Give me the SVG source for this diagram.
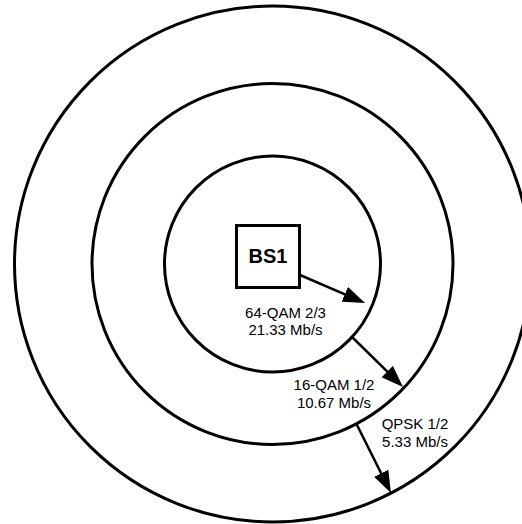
<svg xmlns="http://www.w3.org/2000/svg" width="522" height="524" viewBox="0 0 522 524">
  <style>
    .ring { fill: none; stroke: #000; stroke-width: 3; }
    .box { fill: #fff; stroke: #000; stroke-width: 3; }
    .link { stroke: #000; stroke-width: 2.5; fill: none; }
    .lbl { font-family: "Liberation Sans", Arial, sans-serif; font-size: 15px; fill: #000; text-anchor: middle; }
    .bs { font-family: "Liberation Sans", Arial, sans-serif; font-size: 20px; font-weight: bold; fill: #000; text-anchor: middle; }
  </style>
  <defs>
    <marker id="head" markerUnits="userSpaceOnUse" markerWidth="22" markerHeight="16" refX="14" refY="8" orient="auto">
      <path d="M0,0 L22,8 L0,16 z" fill="#000"/>
    </marker>
  </defs>
  <rect width="522" height="524" fill="#fff"/>

  <!-- coverage rings -->
  <g id="ring-outer"><circle class="ring" cx="272.5" cy="264" r="258"/></g>
  <g id="ring-middle"><circle class="ring" cx="272.5" cy="264" r="180.5"/></g>
  <g id="ring-inner"><circle class="ring" cx="272.5" cy="264" r="108"/></g>

  <!-- base station -->
  <g id="bs1">
    <rect class="box" x="236.5" y="225.5" width="63" height="62"/>
    <text class="bs" x="268" y="263">BS1</text>
  </g>

  <!-- connectors -->
  <g id="connectors">
    <line class="link" x1="300" y1="275" x2="357.7" y2="299.8" marker-end="url(#head)"/>
    <line class="link" x1="352" y1="337" x2="397.3" y2="381.4" marker-end="url(#head)"/>
    <line class="link" x1="357" y1="425" x2="387.4" y2="485.8" marker-end="url(#head)"/>
  </g>

  <!-- rate labels -->
  <g id="label-64qam">
    <text class="lbl" x="285.5" y="318">64-QAM 2/3</text>
    <text class="lbl" x="285.5" y="335">21.33 Mb/s</text>
  </g>
  <g id="label-16qam">
    <text class="lbl" x="334" y="390">16-QAM 1/2</text>
    <text class="lbl" x="334" y="408">10.67 Mb/s</text>
  </g>
  <g id="label-qpsk">
    <text class="lbl" x="415" y="429">QPSK 1/2</text>
    <text class="lbl" x="415" y="447">5.33 Mb/s</text>
  </g>
</svg>
